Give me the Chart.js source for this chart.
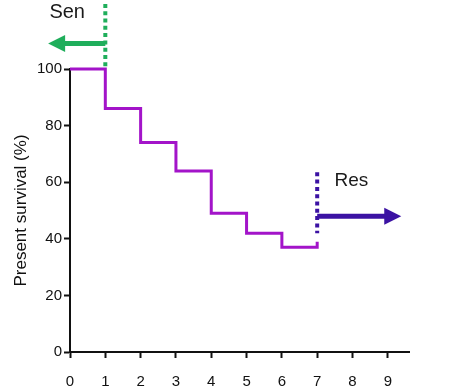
<!DOCTYPE html>
<html>
<head>
<meta charset="utf-8">
<script src="https://cdn.jsdelivr.net/npm/chart.js@4.4.1/dist/chart.umd.min.js"></script>
<style>
  html, body { margin: 0; padding: 0; background: #ffffff; }
  #wrap { width: 451px; height: 390px; position: relative; }
</style>
</head>
<body>
<div id="wrap"><canvas id="c" width="451" height="390"></canvas></div>
<script>
// Survival curve (Kaplan-Meier style step data)
const survivalX = [0, 1, 2, 3, 4, 5, 6, 7, 7];
const survivalY = [100, 86, 74, 64, 49, 42, 37, 37, 39];

// "Sen" marker: dotted vertical line at x=1 and left arrow (start -> tip)
const senLineX = [1, 1];
const senLineY = [123, 100];
const senArrowX = [1, -0.62];
const senArrowY = [109, 109];

// "Res" marker: dotted vertical line at x=7 and right arrow (start -> tip)
const resLineX = [7, 7];
const resLineY = [63.5, 42];
const resArrowX = [7, 9.38];
const resArrowY = [48, 48];

// Annotation labels
const labelText = ["Sen", "Res"];
const labelX = [-0.08, 7.97];
const labelY = [119.9, 60.6];

// Axis ticks
const xTicks = [0, 1, 2, 3, 4, 5, 6, 7, 8, 9];
const yTicks = [0, 20, 40, 60, 80, 100];
const yTitle = "Present survival (%)";

const zip = (xs, ys) => xs.map((x, i) => ({ x: x, y: ys[i] }));

const GREEN = '#1fae5b';
const INDIGO = '#3b12a3';
const PURPLE = '#a314c9';
const FONT = '"Liberation Sans", Arial, sans-serif';

const arrows = [
  { xs: senArrowX, ys: senArrowY, color: GREEN },
  { xs: resArrowX, ys: resArrowY, color: INDIGO }
];

const annotPlugin = {
  id: 'annot',
  afterDatasetsDraw(chart) {
    const ctx = chart.ctx;
    const sx = chart.scales.x, sy = chart.scales.y;
    ctx.save();
    // arrows
    arrows.forEach(a => {
      const x0 = sx.getPixelForValue(a.xs[0]), y0 = sy.getPixelForValue(a.ys[0]);
      const x1 = sx.getPixelForValue(a.xs[1]), y1 = sy.getPixelForValue(a.ys[1]);
      const dx = x1 - x0, dy = y1 - y0, len = Math.hypot(dx, dy);
      const ux = dx / len, uy = dy / len;
      const headLen = 17, headHalf = 8.5;
      const bx = x1 - ux * headLen, by = y1 - uy * headLen;
      ctx.strokeStyle = a.color;
      ctx.lineWidth = 5;
      ctx.lineCap = 'butt';
      ctx.beginPath();
      ctx.moveTo(x0, y0);
      ctx.lineTo(bx + ux * 2, by + uy * 2);
      ctx.stroke();
      ctx.fillStyle = a.color;
      ctx.beginPath();
      ctx.moveTo(x1, y1);
      ctx.lineTo(bx - uy * headHalf, by + ux * headHalf);
      ctx.lineTo(bx + uy * headHalf, by - ux * headHalf);
      ctx.closePath();
      ctx.fill();
    });
    // labels
    ctx.fillStyle = '#1a1a1a';
    ctx.textAlign = 'center';
    ctx.textBaseline = 'middle';
    labelText.forEach((t, i) => {
      ctx.font = (i === 0 ? '20px ' : '19px ') + FONT;
      ctx.fillText(t, sx.getPixelForValue(labelX[i]), sy.getPixelForValue(labelY[i]));
    });
    ctx.restore();
  }
};

new Chart(document.getElementById('c'), {
  type: 'scatter',
  data: {
    datasets: [
      {
        data: zip(survivalX, survivalY),
        showLine: true, stepped: true,
        borderColor: PURPLE, borderWidth: 3,
        pointRadius: 0, clip: false
      },
      {
        data: zip(senLineX, senLineY),
        showLine: true, borderColor: GREEN, borderWidth: 4,
        borderDash: [4, 3.3], pointRadius: 0, clip: false
      },
      {
        data: zip(resLineX, resLineY),
        showLine: true, borderColor: INDIGO, borderWidth: 4,
        borderDash: [4, 3.3], pointRadius: 0, clip: false
      }
    ]
  },
  options: {
    responsive: false,
    animation: false,
    layout: { padding: { top: 69, right: 42, left: 0, bottom: 0 } },
    plugins: { legend: { display: false }, tooltip: { enabled: false } },
    elements: { point: { hoverRadius: 0 } },
    scales: {
      x: {
        type: 'linear', min: 0, max: 9.6,
        border: { color: '#111', width: 2 },
        grid: { drawOnChartArea: false, drawTicks: true, tickLength: 6, tickColor: '#111', tickWidth: 2 },
        ticks: { stepSize: 1, color: '#111', padding: 15, maxRotation: 0,
                 font: { size: 15, family: FONT } },
        afterBuildTicks(s) { s.ticks = xTicks.map(v => ({ value: v })); },
        afterFit(s) { s.height = 38; }
      },
      y: {
        type: 'linear', min: 0, max: 100,
        border: { color: '#111', width: 2 },
        grid: { drawOnChartArea: false, drawTicks: true, tickLength: 6, tickColor: '#111', tickWidth: 2 },
        ticks: { color: '#111', padding: 2,
                 font: { size: 15, family: FONT } },
        afterBuildTicks(s) { s.ticks = yTicks.map(v => ({ value: v })); },
        title: { display: true, text: yTitle, color: '#111', padding: { top: 11, bottom: 0 },
                 font: { size: 17, family: FONT } },
        afterFit(s) { s.width = 70; }
      }
    }
  },
  plugins: [annotPlugin]
});
</script>
</body>
</html>
